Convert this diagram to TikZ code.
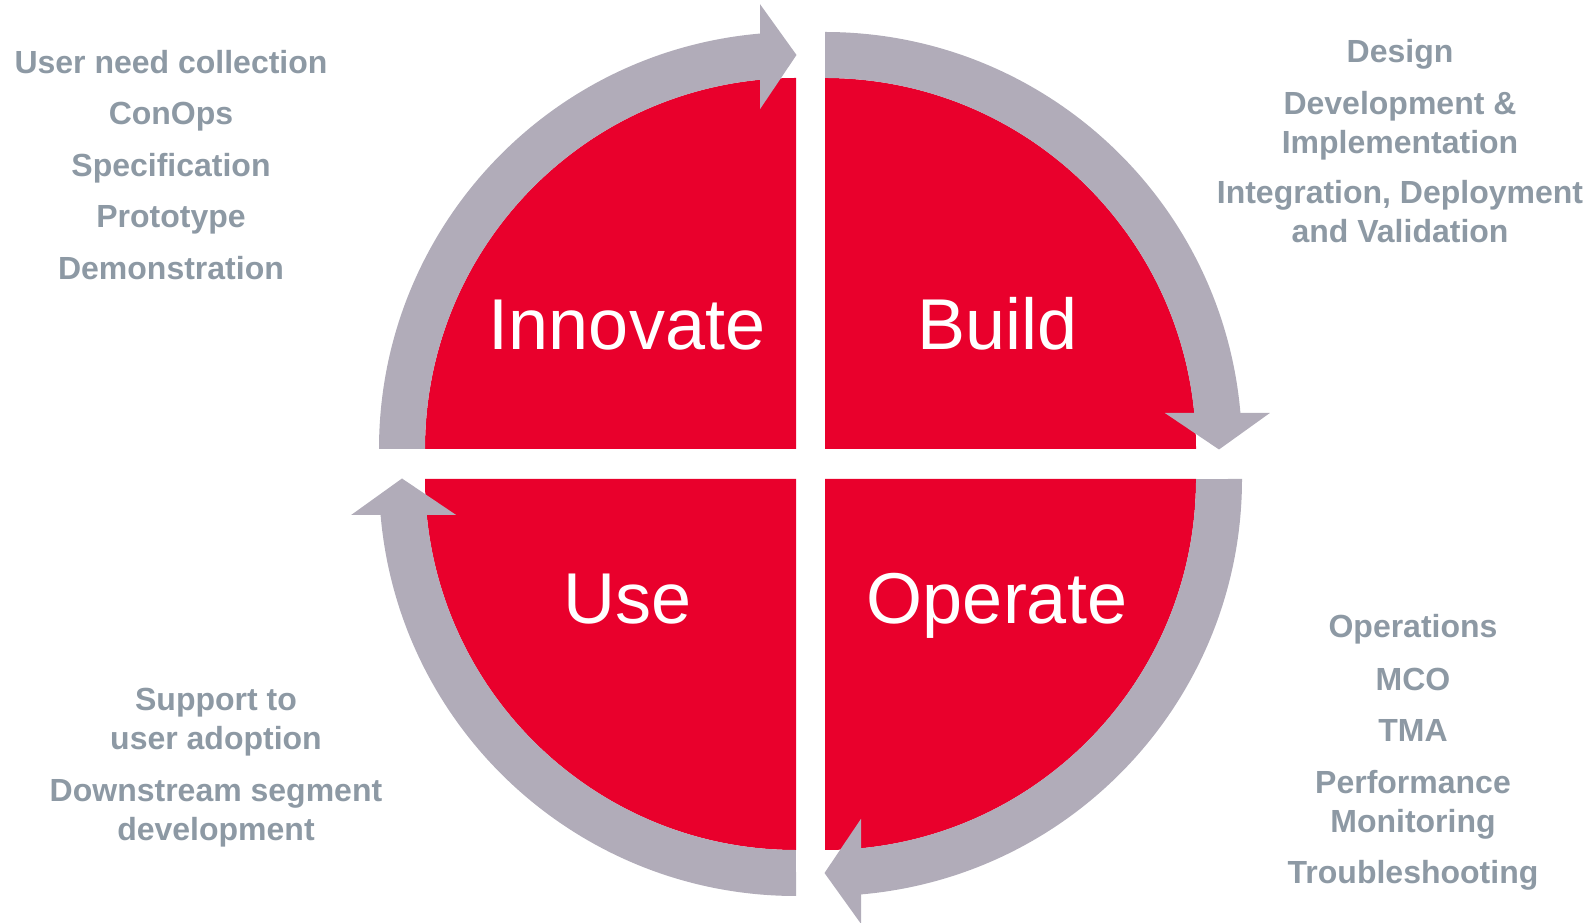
\documentclass[tikz,border=0pt]{standalone}
\usepackage{fontspec}
\setmainfont{Liberation Sans}
\definecolor{qred}{RGB}{233,0,44}
\definecolor{agray}{RGB}{177,172,185}
\definecolor{tgray}{RGB}{141,153,164}
\begin{document}
\begin{tikzpicture}[x=1pt,y=1pt,
  quad/.style={fill=qred},
  band/.style={fill=agray},
  big/.style={text=white, font=\fontsize{72}{80}\selectfont, anchor=base, inner sep=0pt},
  item/.style={text=tgray, font=\bfseries\fontsize{32}{39.5}\selectfont, align=center, anchor=base, inner sep=0pt}]
\useasboundingbox (0,0) rectangle (1592,923);
% corners of the four quadrants
\coordinate (c1) at (796,474);
\coordinate (c2) at (825,474);
\coordinate (c3) at (825,444);
\coordinate (c4) at (796,444);
% red quadrants
\foreach \c/\r in {c1/0, c2/-90, c3/-180, c4/-270}{
  \begin{scope}[shift={(\c)}, rotate=\r]
    \path[quad] (0,0) -- (-371,0) arc[start angle=180, end angle=90, radius=371pt] -- cycle;
  \end{scope}
}
% grey arrows
\foreach \c/\r in {c1/0, c2/-90, c3/-180, c4/-270}{
  \begin{scope}[shift={(\c)}, rotate=\r]
    \path[band] (-417,0) arc[start angle=180, end angle=94.953, radius=417pt]
      -- (-36,444.85) -- (0.5,394) -- (-36,339.85) -- (-36,369.25)
      arc[start angle=95.569, end angle=180, radius=371pt] -- cycle;
  \end{scope}
}
% quadrant labels
\node[big] (innovate) at (627,573) {Innovate};
\node[big] (build) at (997.5,573) {Build};
\node[big] (use) at (628,299) {Use};
\node[big] (operate) at (997,299) {Operate};
% top-left list
\node[item] (t1) at (171,849.7) {User need collection};
\node[item] (t2) at (171,798) {ConOps};
\node[item] (t3) at (171,746.3) {Specification};
\node[item] (t4) at (171,695) {Prototype};
\node[item] (t5) at (171,643) {Demonstration};
% top-right list
\node[item] (r1) at (1400,860) {Design};
\node[item] (r2) at (1400,769) {Development \&\\Implementation};
\node[item] (r3) at (1400,680) {Integration, Deployment\\and Validation};
% bottom-right list
\node[item] (b1) at (1413,285) {Operations};
\node[item] (b2) at (1413,232.7) {MCO};
\node[item] (b3) at (1413,181) {TMA};
\node[item] (b4) at (1413,90) {Performance\\Monitoring};
\node[item] (b5) at (1413,39) {Troubleshooting};
% bottom-left list
\node[item] (l1) at (216,173) {Support to\\user adoption};
\node[item] (l2) at (216,82) {Downstream segment\\development};
\end{tikzpicture}
\end{document}
